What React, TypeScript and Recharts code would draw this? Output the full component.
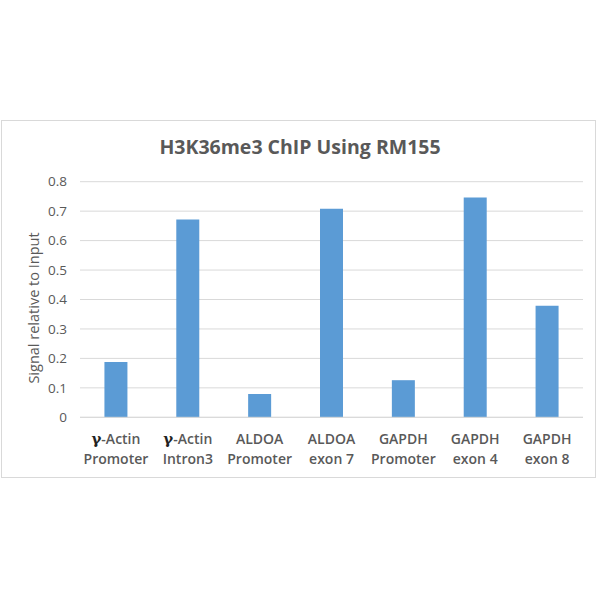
import React from "react";
import { BarChart, Bar, XAxis, YAxis, CartesianGrid } from "recharts";

const categoriesLine1 = ["γ-Actin", "γ-Actin", "ALDOA", "ALDOA", "GAPDH", "GAPDH", "GAPDH"];
const categoriesLine2 = ["Promoter", "Intron3", "Promoter", "exon 7", "Promoter", "exon 4", "exon 8"];
const signalValues = [0.188, 0.672, 0.079, 0.708, 0.126, 0.746, 0.379];
const yTicks = [0, 0.1, 0.2, 0.3, 0.4, 0.5, 0.6, 0.7, 0.8];

const data = signalValues.map((v, i) => ({
  key: String(i),
  l1: categoriesLine1[i],
  l2: categoriesLine2[i],
  value: v,
}));

const FONT = "'Open Sans', 'Liberation Sans', sans-serif";
const TEXT = "#595959";

const CatTick = (props: any) => {
  const { x, y, payload } = props;
  const i = Number(payload.value);
  const l1 = categoriesLine1[i];
  const hasGamma = l1.startsWith("γ");
  return (
    <g transform={`translate(${x},${y})`}>
      <text x={0} y={19} textAnchor="middle" fill={TEXT} fontFamily={FONT} fontSize={14} fontWeight={600}>
        {hasGamma ? (
          <>
            <tspan fontFamily="'DejaVu Serif', serif" fill="#222" fontWeight={700} fontSize={15}>γ</tspan>
            <tspan>{l1.slice(1)}</tspan>
          </>
        ) : (
          l1
        )}
      </text>
      <text x={0} y={39} textAnchor="middle" fill={TEXT} fontFamily={FONT} fontSize={14} fontWeight={600}>
        {categoriesLine2[i]}
      </text>
    </g>
  );
};

export default function App() {
  return (
    <div style={{ position: "absolute", left: 0, top: 0, width: 600, height: 600, background: "#fff" }}>
      <div
        style={{
          position: "absolute",
          left: 1,
          top: 120,
          width: 595,
          height: 358,
          border: "1px solid #d9d9d9",
          boxSizing: "border-box",
        }}
      />
      <div
        style={{
          position: "absolute",
          left: 0,
          width: 600,
          top: 133,
          textAlign: "center",
          fontFamily: FONT,
          fontSize: 19.5,
          fontWeight: 700,
          color: TEXT,
        }}
      >
        H3K36me3 ChIP Using RM155
      </div>
      <div style={{ position: "absolute", left: 0, top: 0 }}>
        <BarChart
          width={600}
          height={600}
          data={data}
          margin={{ top: 181.7, right: 17, bottom: 122.7, left: 30 }}
          barCategoryGap="34%"
        >
          <CartesianGrid horizontal vertical={false} stroke="#d9d9d9" />
          <XAxis
            dataKey="key"
            height={60}
            tick={<CatTick />}
            tickLine={false}
            axisLine={{ stroke: "#d9d9d9" }}
            interval={0}
          />
          <YAxis
            width={50}
            domain={[0, 0.8]}
            ticks={yTicks}
            tickFormatter={(v: number) => String(Math.round(v * 10) / 10)}
            tick={{ fill: TEXT, fontFamily: FONT, fontSize: 13.5 }}
            tickLine={false}
            axisLine={false}
            tickSize={0}
            tickMargin={13}
          />
          <Bar dataKey="value" fill="#5B9BD5" isAnimationActive={false} />
        </BarChart>
      </div>
      <svg style={{ position: "absolute", left: 0, top: 0 }} width={600} height={600} pointerEvents="none">
        <text
          x={33.5}
          y={308}
          transform="rotate(-90 33.5 308)"
          textAnchor="middle"
          dominantBaseline="central"
          fill={TEXT}
          fontFamily={FONT}
          fontSize={14.5}
        >
          Signal relative to Input
        </text>
      </svg>
    </div>
  );
}
